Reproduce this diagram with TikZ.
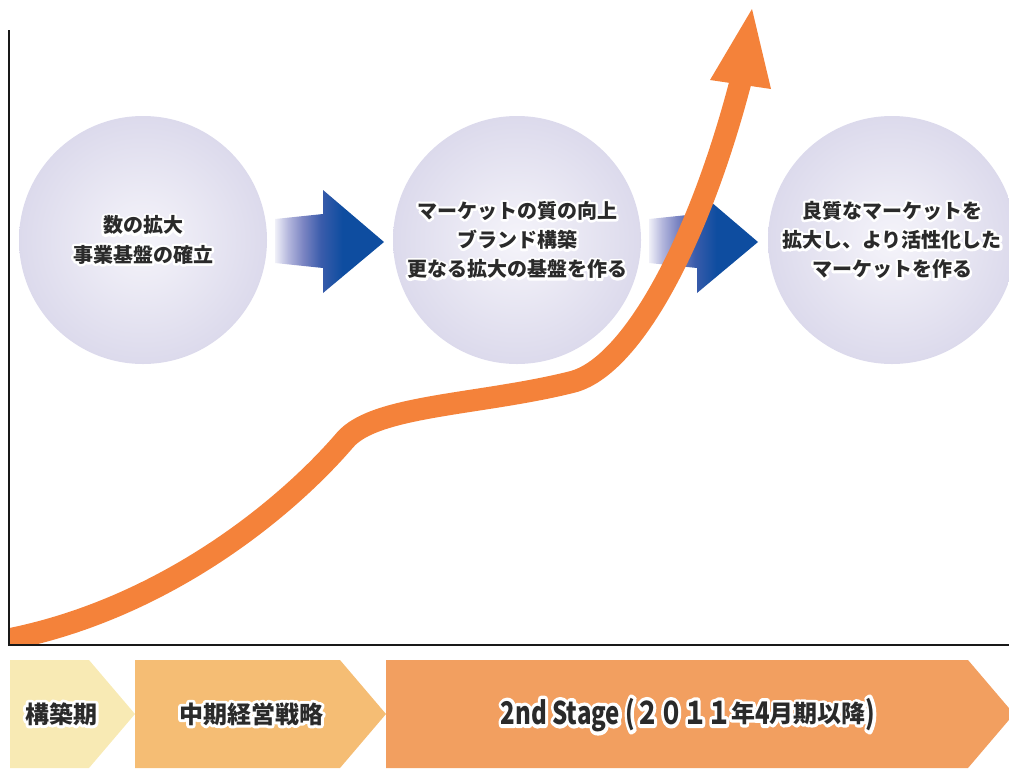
\documentclass[tikz,border=0pt]{standalone}
\usepackage{fontspec,graphicx}
\newfontfamily\jpfont{Noto Sans CJK JP}
\newfontfamily\jprim{Noto Sans CJK JP}[BoldFeatures={FakeBold=24}]
\definecolor{ballin}{HTML}{F5F4FA}
\definecolor{ballout}{HTML}{DCDAEC}
\definecolor{arrlight}{HTML}{F0F0F8}
\definecolor{arrpale}{HTML}{B4B7DD}
\definecolor{arrmid}{HTML}{7A84C2}
\definecolor{arrdeep}{HTML}{3A5CAB}
\definecolor{arrblue}{HTML}{0E4DA0}
\definecolor{growth}{HTML}{F4823A}
\definecolor{phaseA}{HTML}{F8EAB4}
\definecolor{phaseB}{HTML}{F5BD74}
\definecolor{phaseC}{HTML}{F29F60}
\definecolor{ink}{HTML}{2A2A2A}
\pgfdeclarehorizontalshading{stepshade}{100bp}{color(0bp)=(arrlight); color(25bp)=(arrlight);
	color(31bp)=(arrpale); color(38bp)=(arrmid); color(46bp)=(arrdeep); color(56bp)=(arrblue); color(100bp)=(arrblue)}
\tikzset{
	>=latex,
}
% text with a white rim: {style}{name}{coordinate}{text}
\newcommand\halo[4]{%
	\node[#1rim] at (#3) {#4};
	\node[#1] (#2) at (#3) {#4};%
}
% taller latin letters and figures
\newcommand\tall[1]{\raisebox{-1.5pt}{\scalebox{1}[1.3]{#1}}}

\begin{document}
\begin{tikzpicture}[x=0.75pt,y=-0.75pt,
		ball/.style={circle, inner sep=0pt, minimum size=186pt, inner color=ballin, outer color=ballout},
		stepshaft/.style={shading=stepshade},
		lbl/.style={font=\jpfont\bfseries\fontsize{15pt}{22pt}\selectfont, align=center, text=ink, inner sep=0pt},
		lblrim/.style={lbl, font=\jprim\bfseries\fontsize{15pt}{22pt}\selectfont, text=white, line join=round},
		phase/.style={font=\jpfont\bfseries\fontsize{18pt}{22pt}\selectfont, text=ink, inner sep=0pt},
		phaserim/.style={phase, font=\jprim\bfseries\fontsize{18pt}{22pt}\selectfont, text=white, line join=round},
		axis/.style={draw=black!90, line width=1.8pt},
	]
		\useasboundingbox (0,0) rectangle (1009,768);
		\clip (0,0) rectangle (1009,768);
		% phases
		\fill[phaseA] (10,660) -- (89,660) -- (135,714) -- (89,768) -- (10,768) -- cycle;
		\fill[phaseB] (135,660) -- (340,660) -- (386,714) -- (340,768) -- (135,768) -- cycle;
		\fill[phaseC] (386,660) -- (968,660) -- (1014,714) -- (968,768) -- (386,768) -- cycle;
		\coordinate (p1) at (61,714);
		\coordinate (p2) at (251,714);
		\coordinate (p3) at (688,715);
		% circles
		\node(c1)[ball] at (143,240) {};
		\node(c2)[ball] at (517,240) {};
		\node(c3)[ball] at (892,240) {};
		% blue arrows
		\shade[stepshaft] (275,219) -- (323,214) -- (323,190) -- (384,242) -- (323,293) -- (323,268) -- (275,263) -- cycle;
		\shade[stepshaft] (649,219) -- (697,214) -- (697,190) -- (758,242) -- (697,293) -- (697,268) -- (649,263) -- cycle;
		% growth curve
		\coordinate (tip) at (752,9);
		\coordinate (hl) at (710,80);
		\coordinate (hr) at (771,89);
		\begin{scope}
			\clip (9,0) rectangle (1009,644);
			\draw[growth, line width=16.5pt]
				(0,641) .. controls (160,612) and (285,510) .. (345,440)
				.. controls (375,405) and (480,405) .. (572,382)
				.. controls (632,367) and (700,240) .. (742,76);
			\fill[growth] (hl) -- (tip) -- (hr) -- cycle;
		\end{scope}
		% axes
		\coordinate (o) at (9,645);
		\draw[axis] (9,30) -- (o) -- (1009,645);
		% texts
		\halo{lbl}{t1}{c1.center}{数の拡大\\事業基盤の確立}
		\halo{lbl}{t2}{c2.center}{マーケットの質の向上\\ブランド構築\\更なる拡大の基盤を作る}
		\halo{lbl}{t3}{c3.center}{良質なマーケットを\\拡大し、より活性化した\\マーケットを作る}
		\halo{phase}{s1}{p1}{構築期}
		\halo{phase}{s2}{p2}{中期経営戦略}
		\halo{phase}{s3}{p3}{\tall{2nd Stage (２０１１}年\tall{4}月期以降\tall{)}}
	\end{tikzpicture}
\end{document}
